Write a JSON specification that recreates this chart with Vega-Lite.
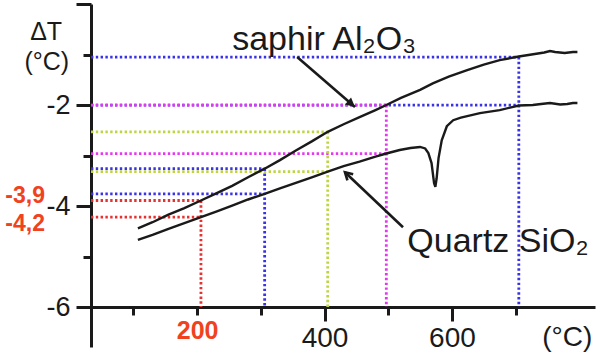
{
  "$schema": "https://vega.github.io/schema/vega-lite/v6.json",
  "width": 504,
  "height": 343,
  "autosize": {"type": "none"},
  "padding": {"left": 91, "top": 4, "right": 5, "bottom": 7},
  "background": "white",
  "config": {"view": {"stroke": null}, "font": "Liberation Sans"},
  "encoding": {
    "x": {
      "field": "x", "type": "quantitative",
      "scale": {"domain": [33.4, 824.6], "nice": false, "zero": false},
      "axis": {
        "values": [100, 200, 300, 400, 500, 600, 700],
        "title": null,
        "offset": -40,
        "format": "d",
        "labelExpr": "datum.value == 200 || datum.value == 400 || datum.value == 600 ? datum.label : ''",
        "labelFont": "Liberation Sans",
        "labelFontSize": {"condition": {"test": "datum.value == 200", "value": 25}, "value": 28},
        "labelFontWeight": {"condition": {"test": "datum.value == 200", "value": "bold"}, "value": "normal"},
        "labelColor": {"condition": {"test": "datum.value == 200", "value": "#f0421e"}, "value": "#1a1a1a"},
        "tickSize": {"condition": {"test": "datum.value == 400 || datum.value == 600", "value": 14}, "value": 8},
        "tickWidth": 3,
        "tickColor": "#1a1a1a",
        "domainWidth": 3,
        "domainColor": "#1a1a1a",
        "labelPadding": 3,
        "grid": false,
        "labelFlush": false,
        "labelOverlap": false,
        "labelBound": false
      }
    },
    "y": {
      "field": "y", "type": "quantitative",
      "scale": {"domain": [-6.79, 0], "nice": false, "zero": false},
      "axis": {
        "values": [0, -1, -2, -3, -4, -5, -6],
        "title": null,
        "labelExpr": "datum.value % 2 == 0 && datum.value != 0 ? '-' + abs(datum.value) : ''",
        "labelFont": "Liberation Sans",
        "labelFontSize": 27,
        "labelColor": "#1a1a1a",
        "tickSize": {"condition": {"test": "datum.value % 2 == 0", "value": 15}, "value": 8},
        "tickWidth": 3,
        "tickColor": "#1a1a1a",
        "domainWidth": 3,
        "domainColor": "#1a1a1a",
        "labelPadding": 6,
        "grid": false,
        "labelOverlap": false,
        "labelBound": false
      }
    }
  },
  "layer": [
    {
      "data": {"values": [
        {"x": 33.4, "y": -1.05, "x2": 705, "y2": -1.05, "c": "blue"},
        {"x": 33.4, "y": -2.0, "x2": 705, "y2": -2.0, "c": "blue"},
        {"x": 33.4, "y": -2.0, "x2": 497, "y2": -2.0, "c": "magenta"},
        {"x": 33.4, "y": -2.53, "x2": 405, "y2": -2.53, "c": "yellow"},
        {"x": 33.4, "y": -2.96, "x2": 497, "y2": -2.96, "c": "magenta"},
        {"x": 33.4, "y": -3.26, "x2": 306, "y2": -3.26, "c": "blue"},
        {"x": 33.4, "y": -3.32, "x2": 405, "y2": -3.32, "c": "yellow"},
        {"x": 33.4, "y": -3.76, "x2": 306, "y2": -3.76, "c": "blue"},
        {"x": 33.4, "y": -3.89, "x2": 206, "y2": -3.89, "c": "red"},
        {"x": 33.4, "y": -4.22, "x2": 206, "y2": -4.22, "c": "red"},
        {"x": 206, "y": -3.89, "x2": 206, "y2": -6, "c": "red"},
        {"x": 306, "y": -3.26, "x2": 306, "y2": -6, "c": "blue"},
        {"x": 405, "y": -2.53, "x2": 405, "y2": -6, "c": "yellow"},
        {"x": 497, "y": -2.0, "x2": 497, "y2": -6, "c": "magenta"},
        {"x": 705, "y": -1.05, "x2": 705, "y2": -6, "c": "blue"}
      ]},
      "mark": {"type": "rule", "strokeWidth": 2.8, "strokeDash": [2.4, 2.4]},
      "encoding": {
        "x2": {"field": "x2"},
        "y2": {"field": "y2"},
        "color": {
          "field": "c", "type": "nominal", "legend": null,
          "scale": {"domain": ["blue", "magenta", "yellow", "red"], "range": ["#3a32e8", "#e636f0", "#bfd445", "#e83030"]}
        }
      }
    },
    {
      "data": {"values": [
        {"s": "saphir", "x": 107, "y": -4.44}, {"s": "saphir", "x": 130, "y": -4.32}, {"s": "saphir", "x": 155, "y": -4.17},
        {"s": "saphir", "x": 180, "y": -4.04}, {"s": "saphir", "x": 206, "y": -3.89}, {"s": "saphir", "x": 230, "y": -3.75},
        {"s": "saphir", "x": 255, "y": -3.60}, {"s": "saphir", "x": 280, "y": -3.43}, {"s": "saphir", "x": 306, "y": -3.26},
        {"s": "saphir", "x": 330, "y": -3.09}, {"s": "saphir", "x": 355, "y": -2.90}, {"s": "saphir", "x": 380, "y": -2.72},
        {"s": "saphir", "x": 405, "y": -2.53}, {"s": "saphir", "x": 430, "y": -2.38}, {"s": "saphir", "x": 455, "y": -2.24},
        {"s": "saphir", "x": 480, "y": -2.10}, {"s": "saphir", "x": 497, "y": -2.0}, {"s": "saphir", "x": 520, "y": -1.86},
        {"s": "saphir", "x": 550, "y": -1.70}, {"s": "saphir", "x": 570, "y": -1.57}, {"s": "saphir", "x": 595, "y": -1.44},
        {"s": "saphir", "x": 624, "y": -1.31}, {"s": "saphir", "x": 650, "y": -1.20}, {"s": "saphir", "x": 675, "y": -1.11},
        {"s": "saphir", "x": 705, "y": -1.04}, {"s": "saphir", "x": 730, "y": -0.99}, {"s": "saphir", "x": 745, "y": -0.96},
        {"s": "saphir", "x": 754, "y": -0.93}, {"s": "saphir", "x": 762, "y": -0.95}, {"s": "saphir", "x": 777, "y": -0.97},
        {"s": "saphir", "x": 790, "y": -0.95}, {"s": "saphir", "x": 797, "y": -0.95},
        {"s": "quartz", "x": 107, "y": -4.67}, {"s": "quartz", "x": 130, "y": -4.57}, {"s": "quartz", "x": 155, "y": -4.45},
        {"s": "quartz", "x": 180, "y": -4.34}, {"s": "quartz", "x": 206, "y": -4.22}, {"s": "quartz", "x": 230, "y": -4.11},
        {"s": "quartz", "x": 255, "y": -3.99}, {"s": "quartz", "x": 280, "y": -3.87}, {"s": "quartz", "x": 306, "y": -3.76},
        {"s": "quartz", "x": 330, "y": -3.65}, {"s": "quartz", "x": 355, "y": -3.54}, {"s": "quartz", "x": 380, "y": -3.43},
        {"s": "quartz", "x": 405, "y": -3.32}, {"s": "quartz", "x": 430, "y": -3.21}, {"s": "quartz", "x": 455, "y": -3.12},
        {"s": "quartz", "x": 480, "y": -3.02}, {"s": "quartz", "x": 497, "y": -2.96}, {"s": "quartz", "x": 518, "y": -2.89},
        {"s": "quartz", "x": 535, "y": -2.85}, {"s": "quartz", "x": 550, "y": -2.83}, {"s": "quartz", "x": 558, "y": -2.86},
        {"s": "quartz", "x": 563, "y": -2.95}, {"s": "quartz", "x": 568, "y": -3.15}, {"s": "quartz", "x": 572, "y": -3.55},
        {"s": "quartz", "x": 574, "y": -3.62}, {"s": "quartz", "x": 576, "y": -3.45}, {"s": "quartz", "x": 579, "y": -3.05},
        {"s": "quartz", "x": 584, "y": -2.70}, {"s": "quartz", "x": 592, "y": -2.42}, {"s": "quartz", "x": 602, "y": -2.30},
        {"s": "quartz", "x": 614, "y": -2.25}, {"s": "quartz", "x": 624, "y": -2.22}, {"s": "quartz", "x": 644, "y": -2.16},
        {"s": "quartz", "x": 675, "y": -2.10}, {"s": "quartz", "x": 705, "y": -2.01}, {"s": "quartz", "x": 727, "y": -2.00},
        {"s": "quartz", "x": 740, "y": -1.98}, {"s": "quartz", "x": 754, "y": -1.96}, {"s": "quartz", "x": 770, "y": -1.99},
        {"s": "quartz", "x": 781, "y": -1.98}, {"s": "quartz", "x": 790, "y": -1.96}, {"s": "quartz", "x": 797, "y": -1.96}
      ]},
      "mark": {"type": "line", "color": "#1a1a1a", "strokeWidth": 2.4},
      "encoding": {"detail": {"field": "s", "type": "nominal"}}
    },
    {
      "data": {"values": [
        {"x": 357, "y": -1.05, "x2": 447.8, "y2": -2.04},
        {"x": 523.2, "y": -4.42, "x2": 432.1, "y2": -3.33}
      ]},
      "mark": {"type": "rule", "color": "#1a1a1a", "strokeWidth": 2.6},
      "encoding": {"x2": {"field": "x2"}, "y2": {"field": "y2"}}
    },
    {
      "data": {"values": [{"x": 447.8, "y": -2.04}]},
      "mark": {"type": "point", "shape": "M0,0L-0.75,1.5L0.75,1.5Z", "filled": true, "color": "#1a1a1a", "size": 150, "angle": 131, "opacity": 1}
    },
    {
      "data": {"values": [{"x": 432.1, "y": -3.33}]},
      "mark": {"type": "point", "shape": "M-0.8,1.4L0,0L0.8,1.4", "filled": false, "color": "#1a1a1a", "strokeWidth": 2.6, "size": 110, "angle": 313.5, "opacity": 1}
    },
    {
      "data": {"values": [
        {"x": 255, "y": -0.91, "t": "saphir Al₂O₃"},
        {"x": 530, "y": -4.91, "t": "Quartz SiO₂"}
      ]},
      "mark": {"type": "text", "align": "left", "baseline": "alphabetic", "fontSize": 34, "font": "Liberation Sans", "color": "#1a1a1a"},
      "encoding": {"text": {"field": "t"}}
    },
    {
      "data": {"values": [
        {"x": -37, "y": -0.72, "t": "ΔT"},
        {"x": -36, "y": -1.31, "t": "(°C)"}
      ]},
      "mark": {"type": "text", "align": "center", "baseline": "alphabetic", "fontSize": 25, "font": "Liberation Sans", "color": "#1a1a1a"},
      "encoding": {"text": {"field": "t"}}
    },
    {
      "data": {"values": [{"x": 781, "y": -6.77, "t": "(°C)"}]},
      "mark": {"type": "text", "align": "center", "baseline": "alphabetic", "fontSize": 28, "font": "Liberation Sans", "color": "#1a1a1a"},
      "encoding": {"text": {"field": "t"}}
    },
    {
      "data": {"values": [
        {"x": -70, "y": -3.94, "t": "-3,9"},
        {"x": -70, "y": -4.50, "t": "-4,2"}
      ]},
      "mark": {"type": "text", "align": "center", "baseline": "alphabetic", "fontSize": 23, "fontWeight": "bold", "font": "Liberation Sans", "color": "#f0421e"},
      "encoding": {"text": {"field": "t"}}
    }
  ]
}
